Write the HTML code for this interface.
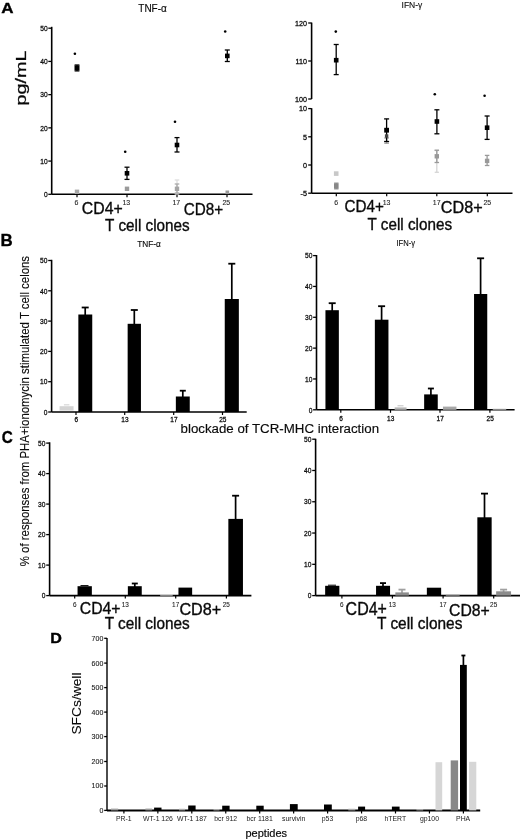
<!DOCTYPE html><html><head><meta charset="utf-8"><style>html,body{margin:0;padding:0;background:#fff;width:520px;height:840px;overflow:hidden}svg{display:block;filter:blur(0.35px)}text{font-family:"Liberation Sans", sans-serif}</style></head><body>
<svg width="520" height="840" viewBox="0 0 520 840">
<rect width="520" height="840" fill="#fff"/>
<text transform="translate(1.37,13.40) scale(1.0972,1)" font-size="15.507" font-weight="bold" fill="#000" stroke="#000" stroke-width="0.35">A</text>
<text transform="translate(0.50,246.10) scale(0.9791,1)" font-size="17.246" font-weight="bold" fill="#000" stroke="#000" stroke-width="0.35">B</text>
<text transform="translate(1.69,442.93) scale(0.9109,1)" font-size="16.761" font-weight="bold" fill="#000" stroke="#000" stroke-width="0.35">C</text>
<text transform="translate(50.15,642.60) scale(1.0890,1)" font-size="14.783" font-weight="bold" fill="#000" stroke="#000" stroke-width="0.35">D</text>
<text transform="translate(138.30,11.79) scale(0.8845,1)" font-size="11.286" font-weight="normal" fill="#0a0a0a" stroke="#0a0a0a" stroke-width="0.15">TNF-α</text>
<line x1="51.70" y1="26.80" x2="51.70" y2="194.30" stroke="#000" stroke-width="1.6"/>
<line x1="48.30" y1="194.30" x2="51.70" y2="194.30" stroke="#000" stroke-width="1.3"/>
<text transform="translate(43.88,197.00) scale(0.8300,1)" font-size="8.000" font-weight="normal" fill="#0a0a0a" stroke="#0a0a0a" stroke-width="0.28">0</text>
<line x1="48.30" y1="161.08" x2="51.70" y2="161.08" stroke="#000" stroke-width="1.3"/>
<text transform="translate(40.20,163.78) scale(0.8300,1)" font-size="8.000" font-weight="normal" fill="#0a0a0a" stroke="#0a0a0a" stroke-width="0.28">10</text>
<line x1="48.30" y1="127.86" x2="51.70" y2="127.86" stroke="#000" stroke-width="1.3"/>
<text transform="translate(40.20,130.56) scale(0.8300,1)" font-size="8.000" font-weight="normal" fill="#0a0a0a" stroke="#0a0a0a" stroke-width="0.28">20</text>
<line x1="48.30" y1="94.64" x2="51.70" y2="94.64" stroke="#000" stroke-width="1.3"/>
<text transform="translate(40.20,97.34) scale(0.8300,1)" font-size="8.000" font-weight="normal" fill="#0a0a0a" stroke="#0a0a0a" stroke-width="0.28">30</text>
<line x1="48.30" y1="61.42" x2="51.70" y2="61.42" stroke="#000" stroke-width="1.3"/>
<text transform="translate(40.20,64.12) scale(0.8300,1)" font-size="8.000" font-weight="normal" fill="#0a0a0a" stroke="#0a0a0a" stroke-width="0.28">40</text>
<line x1="48.30" y1="28.20" x2="51.70" y2="28.20" stroke="#000" stroke-width="1.3"/>
<text transform="translate(40.20,30.90) scale(0.8300,1)" font-size="8.000" font-weight="normal" fill="#0a0a0a" stroke="#0a0a0a" stroke-width="0.28">50</text>
<line x1="51.70" y1="194.30" x2="252.50" y2="194.30" stroke="#000" stroke-width="1.6"/>
<line x1="77.00" y1="194.30" x2="77.00" y2="197.30" stroke="#000" stroke-width="1.2"/>
<line x1="127.00" y1="194.30" x2="127.00" y2="197.30" stroke="#000" stroke-width="1.2"/>
<line x1="177.00" y1="194.30" x2="177.00" y2="197.30" stroke="#000" stroke-width="1.2"/>
<line x1="227.00" y1="194.30" x2="227.00" y2="197.30" stroke="#000" stroke-width="1.2"/>
<text transform="translate(74.44,205.20) scale(0.9700,1)" font-size="7.200" font-weight="normal" fill="#222" stroke="#222" stroke-width="0.1">6</text>
<text transform="translate(122.42,205.20) scale(0.9700,1)" font-size="7.200" font-weight="normal" fill="#222" stroke="#222" stroke-width="0.1">13</text>
<text transform="translate(172.44,205.20) scale(0.9700,1)" font-size="7.200" font-weight="normal" fill="#222" stroke="#222" stroke-width="0.1">17</text>
<text transform="translate(222.49,205.20) scale(0.9700,1)" font-size="7.200" font-weight="normal" fill="#222" stroke="#222" stroke-width="0.1">25</text>
<text transform="translate(81.81,214.03) scale(0.9436,1)" font-size="16.761" font-weight="normal" fill="#0a0a0a" stroke="#0a0a0a" stroke-width="0.35">CD4+</text>
<text transform="translate(183.64,214.83) scale(0.8888,1)" font-size="17.183" font-weight="normal" fill="#0a0a0a" stroke="#0a0a0a" stroke-width="0.35">CD8+</text>
<text transform="translate(105.09,230.64) scale(0.9436,1)" font-size="16.190" font-weight="normal" fill="#0a0a0a" stroke="#0a0a0a" stroke-width="0.35">T cell clones</text>
<text transform="translate(25.78,105.48) scale(0.7531,1) rotate(-90)" font-size="19.739" fill="#0a0a0a" stroke="#0a0a0a" stroke-width="0.35">pg/mL</text>
<line x1="77.00" y1="65.00" x2="77.00" y2="70.90" stroke="#000" stroke-width="1.3"/>
<line x1="74.60" y1="65.00" x2="79.40" y2="65.00" stroke="#000" stroke-width="1.3"/>
<line x1="74.60" y1="70.90" x2="79.40" y2="70.90" stroke="#000" stroke-width="1.3"/>
<rect x="74.50" y="65.40" width="5.00" height="5.00" fill="#000"/>
<circle cx="74.90" cy="53.80" r="1.3" fill="#000"/>
<rect x="74.80" y="189.60" width="4.40" height="4.40" fill="#a8a8a8"/>
<line x1="127.00" y1="167.20" x2="127.00" y2="179.40" stroke="#000" stroke-width="1.3"/>
<line x1="124.50" y1="167.20" x2="129.50" y2="167.20" stroke="#000" stroke-width="1.3"/>
<line x1="124.50" y1="179.40" x2="129.50" y2="179.40" stroke="#000" stroke-width="1.3"/>
<rect x="124.70" y="171.00" width="4.60" height="4.60" fill="#000"/>
<circle cx="125.20" cy="151.70" r="1.3" fill="#000"/>
<rect x="124.80" y="186.60" width="4.40" height="4.40" fill="#9a9a9a"/>
<line x1="177.00" y1="180.00" x2="177.00" y2="194.00" stroke="#dddddd" stroke-width="1.3"/>
<line x1="174.70" y1="180.00" x2="179.30" y2="180.00" stroke="#dddddd" stroke-width="1.3"/>
<line x1="174.70" y1="194.00" x2="179.30" y2="194.00" stroke="#dddddd" stroke-width="1.3"/>
<line x1="177.00" y1="184.00" x2="177.00" y2="193.00" stroke="#aaaaaa" stroke-width="1.3"/>
<line x1="174.70" y1="184.00" x2="179.30" y2="184.00" stroke="#aaaaaa" stroke-width="1.3"/>
<line x1="174.70" y1="193.00" x2="179.30" y2="193.00" stroke="#aaaaaa" stroke-width="1.3"/>
<line x1="177.00" y1="137.60" x2="177.00" y2="152.00" stroke="#000" stroke-width="1.3"/>
<line x1="174.50" y1="137.60" x2="179.50" y2="137.60" stroke="#000" stroke-width="1.3"/>
<line x1="174.50" y1="152.00" x2="179.50" y2="152.00" stroke="#000" stroke-width="1.3"/>
<rect x="174.70" y="142.70" width="4.60" height="4.60" fill="#000"/>
<circle cx="175.00" cy="121.70" r="1.3" fill="#000"/>
<rect x="174.80" y="186.60" width="4.40" height="4.40" fill="#a5a5a5"/>
<line x1="227.30" y1="50.00" x2="227.30" y2="61.50" stroke="#000" stroke-width="1.3"/>
<line x1="224.80" y1="50.00" x2="229.80" y2="50.00" stroke="#000" stroke-width="1.3"/>
<line x1="224.80" y1="61.50" x2="229.80" y2="61.50" stroke="#000" stroke-width="1.3"/>
<rect x="225.00" y="53.60" width="4.60" height="4.60" fill="#000"/>
<circle cx="225.20" cy="31.50" r="1.3" fill="#000"/>
<rect x="225.50" y="190.50" width="3.60" height="3.60" fill="#9a9a9a"/>
<text transform="translate(401.53,8.19) scale(0.8906,1)" font-size="9.556" font-weight="normal" fill="#0a0a0a" stroke="#0a0a0a" stroke-width="0.1">IFN-γ</text>
<line x1="311.60" y1="22.60" x2="311.60" y2="99.00" stroke="#000" stroke-width="1.6"/>
<line x1="308.20" y1="99.00" x2="311.60" y2="99.00" stroke="#000" stroke-width="1.3"/>
<text transform="translate(295.00,101.70) scale(0.9000,1)" font-size="8.000" font-weight="normal" fill="#0a0a0a" stroke="#0a0a0a" stroke-width="0.28">100</text>
<line x1="308.20" y1="61.00" x2="311.60" y2="61.00" stroke="#000" stroke-width="1.3"/>
<text transform="translate(295.50,63.70) scale(0.9000,1)" font-size="8.000" font-weight="normal" fill="#0a0a0a" stroke="#0a0a0a" stroke-width="0.28">110</text>
<line x1="308.20" y1="23.00" x2="311.60" y2="23.00" stroke="#000" stroke-width="1.3"/>
<text transform="translate(295.00,25.70) scale(0.9000,1)" font-size="8.000" font-weight="normal" fill="#0a0a0a" stroke="#0a0a0a" stroke-width="0.28">120</text>
<line x1="311.60" y1="108.20" x2="311.60" y2="193.30" stroke="#000" stroke-width="1.6"/>
<line x1="308.20" y1="108.60" x2="311.60" y2="108.60" stroke="#000" stroke-width="1.3"/>
<text transform="translate(299.00,111.30) scale(0.9000,1)" font-size="8.000" font-weight="normal" fill="#0a0a0a" stroke="#0a0a0a" stroke-width="0.28">10</text>
<line x1="308.20" y1="136.80" x2="311.60" y2="136.80" stroke="#000" stroke-width="1.3"/>
<text transform="translate(302.99,139.50) scale(0.9000,1)" font-size="8.000" font-weight="normal" fill="#0a0a0a" stroke="#0a0a0a" stroke-width="0.28">5</text>
<line x1="308.20" y1="165.00" x2="311.60" y2="165.00" stroke="#000" stroke-width="1.3"/>
<text transform="translate(302.99,167.70) scale(0.9000,1)" font-size="8.000" font-weight="normal" fill="#0a0a0a" stroke="#0a0a0a" stroke-width="0.28">0</text>
<line x1="308.20" y1="193.20" x2="311.60" y2="193.20" stroke="#000" stroke-width="1.3"/>
<text transform="translate(300.58,195.90) scale(0.9000,1)" font-size="8.000" font-weight="normal" fill="#0a0a0a" stroke="#0a0a0a" stroke-width="0.28">-5</text>
<line x1="311.60" y1="193.30" x2="512.50" y2="193.30" stroke="#000" stroke-width="1.6"/>
<line x1="336.30" y1="193.30" x2="336.30" y2="196.30" stroke="#000" stroke-width="1.2"/>
<line x1="386.70" y1="193.30" x2="386.70" y2="196.30" stroke="#000" stroke-width="1.2"/>
<line x1="436.80" y1="193.30" x2="436.80" y2="196.30" stroke="#000" stroke-width="1.2"/>
<line x1="487.30" y1="193.30" x2="487.30" y2="196.30" stroke="#000" stroke-width="1.2"/>
<text transform="translate(334.34,204.90) scale(0.9700,1)" font-size="7.200" font-weight="normal" fill="#222" stroke="#222" stroke-width="0.1">6</text>
<text transform="translate(382.72,204.90) scale(0.9700,1)" font-size="7.200" font-weight="normal" fill="#222" stroke="#222" stroke-width="0.1">13</text>
<text transform="translate(432.84,204.90) scale(0.9700,1)" font-size="7.200" font-weight="normal" fill="#222" stroke="#222" stroke-width="0.1">17</text>
<text transform="translate(483.39,204.90) scale(0.9700,1)" font-size="7.200" font-weight="normal" fill="#222" stroke="#222" stroke-width="0.1">25</text>
<text transform="translate(344.44,212.34) scale(0.9255,1)" font-size="16.479" font-weight="normal" fill="#0a0a0a" stroke="#0a0a0a" stroke-width="0.35">CD4+</text>
<text transform="translate(440.79,212.64) scale(0.9901,1)" font-size="16.338" font-weight="normal" fill="#0a0a0a" stroke="#0a0a0a" stroke-width="0.35">CD8+</text>
<text transform="translate(367.60,229.74) scale(0.9575,1)" font-size="15.918" font-weight="normal" fill="#0a0a0a" stroke="#0a0a0a" stroke-width="0.35">T cell clones</text>
<line x1="336.20" y1="44.50" x2="336.20" y2="74.60" stroke="#000" stroke-width="1.3"/>
<line x1="333.70" y1="44.50" x2="338.70" y2="44.50" stroke="#000" stroke-width="1.3"/>
<line x1="333.70" y1="74.60" x2="338.70" y2="74.60" stroke="#000" stroke-width="1.3"/>
<rect x="333.90" y="57.90" width="4.60" height="4.60" fill="#000"/>
<circle cx="335.80" cy="31.60" r="1.3" fill="#000"/>
<rect x="333.90" y="171.30" width="4.60" height="4.60" fill="#c8c8c8"/>
<line x1="336.30" y1="183.20" x2="336.30" y2="188.80" stroke="#888" stroke-width="1.3"/>
<line x1="334.10" y1="183.20" x2="338.50" y2="183.20" stroke="#888" stroke-width="1.3"/>
<line x1="334.10" y1="188.80" x2="338.50" y2="188.80" stroke="#888" stroke-width="1.3"/>
<rect x="334.00" y="183.70" width="4.60" height="4.60" fill="#888"/>
<line x1="386.60" y1="138.00" x2="386.60" y2="143.20" stroke="#9a9a9a" stroke-width="1.3"/>
<line x1="384.30" y1="138.00" x2="388.90" y2="138.00" stroke="#9a9a9a" stroke-width="1.3"/>
<line x1="384.30" y1="143.20" x2="388.90" y2="143.20" stroke="#9a9a9a" stroke-width="1.3"/>
<line x1="386.60" y1="118.90" x2="386.60" y2="141.50" stroke="#000" stroke-width="1.3"/>
<line x1="384.10" y1="118.90" x2="389.10" y2="118.90" stroke="#000" stroke-width="1.3"/>
<line x1="384.10" y1="141.50" x2="389.10" y2="141.50" stroke="#000" stroke-width="1.3"/>
<rect x="384.20" y="127.80" width="4.80" height="4.80" fill="#000"/>
<rect x="384.90" y="134.30" width="3.40" height="3.40" fill="#444"/>
<line x1="436.80" y1="150.50" x2="436.80" y2="172.30" stroke="#d5d5d5" stroke-width="1.3"/>
<line x1="434.70" y1="150.50" x2="438.90" y2="150.50" stroke="#d5d5d5" stroke-width="1.3"/>
<line x1="434.70" y1="172.30" x2="438.90" y2="172.30" stroke="#d5d5d5" stroke-width="1.3"/>
<line x1="436.80" y1="150.20" x2="436.80" y2="162.50" stroke="#999" stroke-width="1.3"/>
<line x1="434.55" y1="150.20" x2="439.05" y2="150.20" stroke="#999" stroke-width="1.3"/>
<line x1="434.55" y1="162.50" x2="439.05" y2="162.50" stroke="#999" stroke-width="1.3"/>
<rect x="434.60" y="154.10" width="4.40" height="4.40" fill="#999"/>
<line x1="436.90" y1="109.80" x2="436.90" y2="133.80" stroke="#000" stroke-width="1.3"/>
<line x1="434.40" y1="109.80" x2="439.40" y2="109.80" stroke="#000" stroke-width="1.3"/>
<line x1="434.40" y1="133.80" x2="439.40" y2="133.80" stroke="#000" stroke-width="1.3"/>
<rect x="434.60" y="119.20" width="4.60" height="4.60" fill="#000"/>
<circle cx="434.80" cy="94.20" r="1.3" fill="#000"/>
<line x1="487.10" y1="155.40" x2="487.10" y2="165.50" stroke="#999" stroke-width="1.3"/>
<line x1="484.85" y1="155.40" x2="489.35" y2="155.40" stroke="#999" stroke-width="1.3"/>
<line x1="484.85" y1="165.50" x2="489.35" y2="165.50" stroke="#999" stroke-width="1.3"/>
<rect x="484.90" y="158.70" width="4.40" height="4.40" fill="#999"/>
<line x1="487.10" y1="116.00" x2="487.10" y2="139.40" stroke="#000" stroke-width="1.3"/>
<line x1="484.60" y1="116.00" x2="489.60" y2="116.00" stroke="#000" stroke-width="1.3"/>
<line x1="484.60" y1="139.40" x2="489.60" y2="139.40" stroke="#000" stroke-width="1.3"/>
<rect x="484.80" y="125.40" width="4.60" height="4.60" fill="#000"/>
<circle cx="484.60" cy="95.80" r="1.3" fill="#000"/>
<text transform="translate(28.91,566.20) scale(1.0399,1) rotate(-90)" font-size="11.416" fill="#0a0a0a" stroke="#0a0a0a" stroke-width="0.12">% of responses from PHA+ionomycin stimulated T cell celons</text>
<text transform="translate(137.23,247.01) scale(0.8907,1)" font-size="9.286" font-weight="normal" fill="#0a0a0a" stroke="#0a0a0a" stroke-width="0.15">TNF-α</text>
<line x1="51.60" y1="259.80" x2="51.60" y2="412.00" stroke="#000" stroke-width="1.6"/>
<line x1="48.20" y1="412.00" x2="51.60" y2="412.00" stroke="#000" stroke-width="1.3"/>
<text transform="translate(43.78,414.70) scale(0.8300,1)" font-size="8.000" font-weight="normal" fill="#0a0a0a" stroke="#0a0a0a" stroke-width="0.28">0</text>
<line x1="48.20" y1="381.70" x2="51.60" y2="381.70" stroke="#000" stroke-width="1.3"/>
<text transform="translate(40.10,384.40) scale(0.8300,1)" font-size="8.000" font-weight="normal" fill="#0a0a0a" stroke="#0a0a0a" stroke-width="0.28">10</text>
<line x1="48.20" y1="351.40" x2="51.60" y2="351.40" stroke="#000" stroke-width="1.3"/>
<text transform="translate(40.10,354.10) scale(0.8300,1)" font-size="8.000" font-weight="normal" fill="#0a0a0a" stroke="#0a0a0a" stroke-width="0.28">20</text>
<line x1="48.20" y1="321.10" x2="51.60" y2="321.10" stroke="#000" stroke-width="1.3"/>
<text transform="translate(40.10,323.80) scale(0.8300,1)" font-size="8.000" font-weight="normal" fill="#0a0a0a" stroke="#0a0a0a" stroke-width="0.28">30</text>
<line x1="48.20" y1="290.80" x2="51.60" y2="290.80" stroke="#000" stroke-width="1.3"/>
<text transform="translate(40.10,293.50) scale(0.8300,1)" font-size="8.000" font-weight="normal" fill="#0a0a0a" stroke="#0a0a0a" stroke-width="0.28">40</text>
<line x1="48.20" y1="260.50" x2="51.60" y2="260.50" stroke="#000" stroke-width="1.3"/>
<text transform="translate(40.10,263.20) scale(0.8300,1)" font-size="8.000" font-weight="normal" fill="#0a0a0a" stroke="#0a0a0a" stroke-width="0.28">50</text>
<line x1="51.60" y1="412.00" x2="246.70" y2="412.00" stroke="#000" stroke-width="1.6"/>
<line x1="76.00" y1="412.00" x2="76.00" y2="415.00" stroke="#000" stroke-width="1.2"/>
<line x1="124.70" y1="412.00" x2="124.70" y2="415.00" stroke="#000" stroke-width="1.2"/>
<line x1="173.70" y1="412.00" x2="173.70" y2="415.00" stroke="#000" stroke-width="1.2"/>
<line x1="222.50" y1="412.00" x2="222.50" y2="415.00" stroke="#000" stroke-width="1.2"/>
<text transform="translate(74.48,422.30) scale(0.8800,1)" font-size="7.400" font-weight="normal" fill="#0a0a0a" stroke="#0a0a0a" stroke-width="0.28">6</text>
<text transform="translate(121.29,422.30) scale(0.8800,1)" font-size="7.400" font-weight="normal" fill="#0a0a0a" stroke="#0a0a0a" stroke-width="0.28">13</text>
<text transform="translate(170.30,422.30) scale(0.8800,1)" font-size="7.400" font-weight="normal" fill="#0a0a0a" stroke="#0a0a0a" stroke-width="0.28">17</text>
<text transform="translate(219.15,422.30) scale(0.8800,1)" font-size="7.400" font-weight="normal" fill="#0a0a0a" stroke="#0a0a0a" stroke-width="0.28">25</text>
<rect x="59.55" y="406.20" width="14.00" height="4.40" fill="#d4d4d4"/>
<line x1="63.90" y1="404.80" x2="69.40" y2="404.80" stroke="#dcdcdc" stroke-width="1.4"/>
<line x1="85.20" y1="307.50" x2="85.20" y2="315.50" stroke="#000" stroke-width="1.7"/>
<line x1="81.70" y1="307.50" x2="88.70" y2="307.50" stroke="#000" stroke-width="1.8"/>
<rect x="78.35" y="314.50" width="13.90" height="97.50" fill="#000"/>
<line x1="134.30" y1="310.00" x2="134.30" y2="324.80" stroke="#000" stroke-width="1.7"/>
<line x1="130.80" y1="310.00" x2="137.80" y2="310.00" stroke="#000" stroke-width="1.8"/>
<rect x="127.65" y="323.80" width="13.30" height="88.20" fill="#000"/>
<line x1="182.80" y1="390.70" x2="182.80" y2="397.50" stroke="#000" stroke-width="1.7"/>
<line x1="179.80" y1="390.70" x2="185.80" y2="390.70" stroke="#000" stroke-width="1.8"/>
<rect x="175.85" y="396.50" width="13.90" height="15.50" fill="#000"/>
<line x1="231.80" y1="263.70" x2="231.80" y2="300.00" stroke="#000" stroke-width="1.7"/>
<line x1="228.30" y1="263.70" x2="235.30" y2="263.70" stroke="#000" stroke-width="1.8"/>
<rect x="224.75" y="299.00" width="14.10" height="113.00" fill="#000"/>
<text transform="translate(396.41,246.06) scale(0.8726,1)" font-size="8.778" font-weight="normal" fill="#0a0a0a" stroke="#0a0a0a" stroke-width="0.1">IFN-γ</text>
<line x1="316.50" y1="255.00" x2="316.50" y2="409.80" stroke="#000" stroke-width="1.6"/>
<line x1="313.10" y1="409.80" x2="316.50" y2="409.80" stroke="#000" stroke-width="1.3"/>
<text transform="translate(308.68,412.50) scale(0.8300,1)" font-size="8.000" font-weight="normal" fill="#0a0a0a" stroke="#0a0a0a" stroke-width="0.28">0</text>
<line x1="313.10" y1="378.96" x2="316.50" y2="378.96" stroke="#000" stroke-width="1.3"/>
<text transform="translate(305.00,381.66) scale(0.8300,1)" font-size="8.000" font-weight="normal" fill="#0a0a0a" stroke="#0a0a0a" stroke-width="0.28">10</text>
<line x1="313.10" y1="348.12" x2="316.50" y2="348.12" stroke="#000" stroke-width="1.3"/>
<text transform="translate(305.00,350.82) scale(0.8300,1)" font-size="8.000" font-weight="normal" fill="#0a0a0a" stroke="#0a0a0a" stroke-width="0.28">20</text>
<line x1="313.10" y1="317.28" x2="316.50" y2="317.28" stroke="#000" stroke-width="1.3"/>
<text transform="translate(305.00,319.98) scale(0.8300,1)" font-size="8.000" font-weight="normal" fill="#0a0a0a" stroke="#0a0a0a" stroke-width="0.28">30</text>
<line x1="313.10" y1="286.44" x2="316.50" y2="286.44" stroke="#000" stroke-width="1.3"/>
<text transform="translate(305.00,289.14) scale(0.8300,1)" font-size="8.000" font-weight="normal" fill="#0a0a0a" stroke="#0a0a0a" stroke-width="0.28">40</text>
<line x1="313.10" y1="255.60" x2="316.50" y2="255.60" stroke="#000" stroke-width="1.3"/>
<text transform="translate(305.00,258.30) scale(0.8300,1)" font-size="8.000" font-weight="normal" fill="#0a0a0a" stroke="#0a0a0a" stroke-width="0.28">50</text>
<line x1="316.50" y1="409.80" x2="514.60" y2="409.80" stroke="#000" stroke-width="1.6"/>
<line x1="340.80" y1="409.80" x2="340.80" y2="412.80" stroke="#000" stroke-width="1.2"/>
<line x1="390.50" y1="409.80" x2="390.50" y2="412.80" stroke="#000" stroke-width="1.2"/>
<line x1="440.00" y1="409.80" x2="440.00" y2="412.80" stroke="#000" stroke-width="1.2"/>
<line x1="489.90" y1="409.80" x2="489.90" y2="412.80" stroke="#000" stroke-width="1.2"/>
<text transform="translate(339.28,421.30) scale(0.8800,1)" font-size="7.400" font-weight="normal" fill="#0a0a0a" stroke="#0a0a0a" stroke-width="0.28">6</text>
<text transform="translate(387.09,421.30) scale(0.8800,1)" font-size="7.400" font-weight="normal" fill="#0a0a0a" stroke="#0a0a0a" stroke-width="0.28">13</text>
<text transform="translate(436.60,421.30) scale(0.8800,1)" font-size="7.400" font-weight="normal" fill="#0a0a0a" stroke="#0a0a0a" stroke-width="0.28">17</text>
<text transform="translate(486.55,421.30) scale(0.8800,1)" font-size="7.400" font-weight="normal" fill="#0a0a0a" stroke="#0a0a0a" stroke-width="0.28">25</text>
<line x1="332.20" y1="303.20" x2="332.20" y2="311.20" stroke="#000" stroke-width="1.7"/>
<line x1="328.70" y1="303.20" x2="335.70" y2="303.20" stroke="#000" stroke-width="1.8"/>
<rect x="325.45" y="310.20" width="13.40" height="99.60" fill="#000"/>
<line x1="381.60" y1="306.20" x2="381.60" y2="320.70" stroke="#000" stroke-width="1.7"/>
<line x1="378.10" y1="306.20" x2="385.10" y2="306.20" stroke="#000" stroke-width="1.8"/>
<rect x="374.85" y="319.70" width="13.60" height="90.10" fill="#000"/>
<rect x="394.65" y="407.40" width="11.90" height="2.40" fill="#b5b5b5"/>
<line x1="397.50" y1="405.80" x2="403.50" y2="405.80" stroke="#c0c0c0" stroke-width="1.0"/>
<line x1="430.90" y1="388.50" x2="430.90" y2="395.40" stroke="#000" stroke-width="1.7"/>
<line x1="427.90" y1="388.50" x2="433.90" y2="388.50" stroke="#000" stroke-width="1.8"/>
<rect x="424.15" y="394.40" width="13.60" height="15.40" fill="#000"/>
<rect x="442.95" y="406.60" width="13.50" height="3.20" fill="#a8a8a8"/>
<line x1="480.60" y1="258.30" x2="480.60" y2="295.00" stroke="#000" stroke-width="1.7"/>
<line x1="477.10" y1="258.30" x2="484.10" y2="258.30" stroke="#000" stroke-width="1.8"/>
<rect x="474.05" y="294.00" width="13.20" height="115.80" fill="#000"/>
<rect x="492.75" y="408.80" width="13.50" height="1.00" fill="#aaaaaa"/>
<text transform="translate(180.54,433.07) scale(1.0189,1)" font-size="13.061" font-weight="normal" fill="#0a0a0a" stroke="#0a0a0a" stroke-width="0.15">blockade of TCR-MHC interaction</text>
<line x1="49.60" y1="442.30" x2="49.60" y2="595.60" stroke="#000" stroke-width="1.6"/>
<line x1="46.20" y1="595.60" x2="49.60" y2="595.60" stroke="#000" stroke-width="1.3"/>
<text transform="translate(41.78,598.30) scale(0.8300,1)" font-size="8.000" font-weight="normal" fill="#0a0a0a" stroke="#0a0a0a" stroke-width="0.28">0</text>
<line x1="46.20" y1="565.10" x2="49.60" y2="565.10" stroke="#000" stroke-width="1.3"/>
<text transform="translate(38.10,567.80) scale(0.8300,1)" font-size="8.000" font-weight="normal" fill="#0a0a0a" stroke="#0a0a0a" stroke-width="0.28">10</text>
<line x1="46.20" y1="534.60" x2="49.60" y2="534.60" stroke="#000" stroke-width="1.3"/>
<text transform="translate(38.10,537.30) scale(0.8300,1)" font-size="8.000" font-weight="normal" fill="#0a0a0a" stroke="#0a0a0a" stroke-width="0.28">20</text>
<line x1="46.20" y1="504.10" x2="49.60" y2="504.10" stroke="#000" stroke-width="1.3"/>
<text transform="translate(38.10,506.80) scale(0.8300,1)" font-size="8.000" font-weight="normal" fill="#0a0a0a" stroke="#0a0a0a" stroke-width="0.28">30</text>
<line x1="46.20" y1="473.60" x2="49.60" y2="473.60" stroke="#000" stroke-width="1.3"/>
<text transform="translate(38.10,476.30) scale(0.8300,1)" font-size="8.000" font-weight="normal" fill="#0a0a0a" stroke="#0a0a0a" stroke-width="0.28">40</text>
<line x1="46.20" y1="443.10" x2="49.60" y2="443.10" stroke="#000" stroke-width="1.3"/>
<text transform="translate(38.10,445.80) scale(0.8300,1)" font-size="8.000" font-weight="normal" fill="#0a0a0a" stroke="#0a0a0a" stroke-width="0.28">50</text>
<line x1="49.60" y1="595.60" x2="251.40" y2="595.60" stroke="#000" stroke-width="1.6"/>
<line x1="74.70" y1="595.60" x2="74.70" y2="598.60" stroke="#000" stroke-width="1.2"/>
<line x1="125.30" y1="595.60" x2="125.30" y2="598.60" stroke="#000" stroke-width="1.2"/>
<line x1="175.70" y1="595.60" x2="175.70" y2="598.60" stroke="#000" stroke-width="1.2"/>
<line x1="226.40" y1="595.60" x2="226.40" y2="598.60" stroke="#000" stroke-width="1.2"/>
<text transform="translate(72.91,607.00) scale(0.9700,1)" font-size="6.600" font-weight="normal" fill="#222" stroke="#222" stroke-width="0.1">6</text>
<text transform="translate(121.65,607.00) scale(0.9700,1)" font-size="6.600" font-weight="normal" fill="#222" stroke="#222" stroke-width="0.1">13</text>
<text transform="translate(172.07,607.00) scale(0.9700,1)" font-size="6.600" font-weight="normal" fill="#222" stroke="#222" stroke-width="0.1">17</text>
<text transform="translate(222.81,607.00) scale(0.9700,1)" font-size="6.600" font-weight="normal" fill="#222" stroke="#222" stroke-width="0.1">25</text>
<line x1="80.50" y1="585.60" x2="88.50" y2="585.60" stroke="#000" stroke-width="1.0"/>
<rect x="77.55" y="586.20" width="14.30" height="9.40" fill="#000"/>
<line x1="134.80" y1="583.50" x2="134.80" y2="587.20" stroke="#000" stroke-width="1.7"/>
<line x1="131.80" y1="583.50" x2="137.80" y2="583.50" stroke="#000" stroke-width="1.8"/>
<rect x="127.85" y="586.20" width="13.90" height="9.40" fill="#000"/>
<rect x="160.15" y="594.40" width="12.60" height="1.20" fill="#d8d8d8"/>
<rect x="178.45" y="587.60" width="13.70" height="8.00" fill="#000"/>
<line x1="235.60" y1="495.70" x2="235.60" y2="519.90" stroke="#000" stroke-width="1.7"/>
<line x1="232.10" y1="495.70" x2="239.10" y2="495.70" stroke="#000" stroke-width="1.8"/>
<rect x="228.35" y="518.90" width="14.60" height="76.70" fill="#000"/>
<text transform="translate(79.71,613.63) scale(0.9357,1)" font-size="16.901" font-weight="normal" fill="#0a0a0a" stroke="#0a0a0a" stroke-width="0.35">CD4+</text>
<text transform="translate(179.39,615.24) scale(0.9901,1)" font-size="16.338" font-weight="normal" fill="#0a0a0a" stroke="#0a0a0a" stroke-width="0.35">CD8+</text>
<text transform="translate(104.69,628.94) scale(0.9573,1)" font-size="16.054" font-weight="normal" fill="#0a0a0a" stroke="#0a0a0a" stroke-width="0.35">T cell clones</text>
<line x1="315.60" y1="438.80" x2="315.60" y2="595.60" stroke="#000" stroke-width="1.6"/>
<line x1="312.20" y1="595.60" x2="315.60" y2="595.60" stroke="#000" stroke-width="1.3"/>
<text transform="translate(307.78,598.30) scale(0.8300,1)" font-size="8.000" font-weight="normal" fill="#0a0a0a" stroke="#0a0a0a" stroke-width="0.28">0</text>
<line x1="312.20" y1="564.32" x2="315.60" y2="564.32" stroke="#000" stroke-width="1.3"/>
<text transform="translate(304.10,567.02) scale(0.8300,1)" font-size="8.000" font-weight="normal" fill="#0a0a0a" stroke="#0a0a0a" stroke-width="0.28">10</text>
<line x1="312.20" y1="533.04" x2="315.60" y2="533.04" stroke="#000" stroke-width="1.3"/>
<text transform="translate(304.10,535.74) scale(0.8300,1)" font-size="8.000" font-weight="normal" fill="#0a0a0a" stroke="#0a0a0a" stroke-width="0.28">20</text>
<line x1="312.20" y1="501.76" x2="315.60" y2="501.76" stroke="#000" stroke-width="1.3"/>
<text transform="translate(304.10,504.46) scale(0.8300,1)" font-size="8.000" font-weight="normal" fill="#0a0a0a" stroke="#0a0a0a" stroke-width="0.28">30</text>
<line x1="312.20" y1="470.48" x2="315.60" y2="470.48" stroke="#000" stroke-width="1.3"/>
<text transform="translate(304.10,473.18) scale(0.8300,1)" font-size="8.000" font-weight="normal" fill="#0a0a0a" stroke="#0a0a0a" stroke-width="0.28">40</text>
<line x1="312.20" y1="439.20" x2="315.60" y2="439.20" stroke="#000" stroke-width="1.3"/>
<text transform="translate(304.10,441.90) scale(0.8300,1)" font-size="8.000" font-weight="normal" fill="#0a0a0a" stroke="#0a0a0a" stroke-width="0.28">50</text>
<line x1="315.60" y1="595.60" x2="521.00" y2="595.60" stroke="#000" stroke-width="1.6"/>
<line x1="341.90" y1="595.60" x2="341.90" y2="598.60" stroke="#000" stroke-width="1.2"/>
<line x1="392.40" y1="595.60" x2="392.40" y2="598.60" stroke="#000" stroke-width="1.2"/>
<line x1="443.10" y1="595.60" x2="443.10" y2="598.60" stroke="#000" stroke-width="1.2"/>
<line x1="493.70" y1="595.60" x2="493.70" y2="598.60" stroke="#000" stroke-width="1.2"/>
<text transform="translate(340.11,606.80) scale(0.9700,1)" font-size="6.600" font-weight="normal" fill="#222" stroke="#222" stroke-width="0.1">6</text>
<text transform="translate(388.75,606.80) scale(0.9700,1)" font-size="6.600" font-weight="normal" fill="#222" stroke="#222" stroke-width="0.1">13</text>
<text transform="translate(439.47,606.80) scale(0.9700,1)" font-size="6.600" font-weight="normal" fill="#222" stroke="#222" stroke-width="0.1">17</text>
<text transform="translate(490.11,606.80) scale(0.9700,1)" font-size="6.600" font-weight="normal" fill="#222" stroke="#222" stroke-width="0.1">25</text>
<line x1="328.00" y1="585.20" x2="336.00" y2="585.20" stroke="#000" stroke-width="1.0"/>
<rect x="325.15" y="585.80" width="14.20" height="9.80" fill="#000"/>
<line x1="383.00" y1="583.10" x2="383.00" y2="586.80" stroke="#000" stroke-width="1.7"/>
<line x1="380.00" y1="583.10" x2="386.00" y2="583.10" stroke="#000" stroke-width="1.8"/>
<rect x="376.05" y="585.80" width="14.00" height="9.80" fill="#000"/>
<line x1="402.00" y1="589.60" x2="402.00" y2="593.60" stroke="#a0a0a0" stroke-width="1.7"/>
<line x1="398.50" y1="589.60" x2="405.50" y2="589.60" stroke="#a0a0a0" stroke-width="1.8"/>
<rect x="395.35" y="592.40" width="13.50" height="3.20" fill="#8c8c8c"/>
<rect x="426.85" y="587.70" width="14.30" height="7.90" fill="#000"/>
<rect x="445.75" y="594.60" width="13.90" height="1.00" fill="#aaaaaa"/>
<line x1="484.50" y1="493.60" x2="484.50" y2="518.30" stroke="#000" stroke-width="1.7"/>
<line x1="481.00" y1="493.60" x2="488.00" y2="493.60" stroke="#000" stroke-width="1.8"/>
<rect x="477.35" y="517.30" width="14.30" height="78.30" fill="#000"/>
<line x1="503.60" y1="589.60" x2="503.60" y2="592.30" stroke="#a0a0a0" stroke-width="1.7"/>
<line x1="500.10" y1="589.60" x2="507.10" y2="589.60" stroke="#a0a0a0" stroke-width="1.8"/>
<rect x="496.15" y="591.30" width="14.90" height="4.30" fill="#8c8c8c"/>
<text transform="translate(345.60,615.02) scale(0.8793,1)" font-size="18.169" font-weight="normal" fill="#0a0a0a" stroke="#0a0a0a" stroke-width="0.35">CD4+</text>
<text transform="translate(449.01,615.93) scale(0.9180,1)" font-size="17.183" font-weight="normal" fill="#0a0a0a" stroke="#0a0a0a" stroke-width="0.35">CD8+</text>
<text transform="translate(376.99,628.74) scale(0.9773,1)" font-size="15.782" font-weight="normal" fill="#0a0a0a" stroke="#0a0a0a" stroke-width="0.35">T cell clones</text>
<line x1="107.00" y1="638.00" x2="107.00" y2="810.40" stroke="#000" stroke-width="1.4"/>
<line x1="104.20" y1="638.30" x2="107.00" y2="638.30" stroke="#000" stroke-width="1.3"/>
<text transform="translate(91.61,640.75) scale(0.9600,1)" font-size="7.300" font-weight="normal" fill="#1a1a1a" stroke="#1a1a1a" stroke-width="0.1">700</text>
<line x1="104.20" y1="663.10" x2="107.00" y2="663.10" stroke="#000" stroke-width="1.3"/>
<text transform="translate(91.61,665.55) scale(0.9600,1)" font-size="7.300" font-weight="normal" fill="#1a1a1a" stroke="#1a1a1a" stroke-width="0.1">600</text>
<line x1="104.20" y1="687.60" x2="107.00" y2="687.60" stroke="#000" stroke-width="1.3"/>
<text transform="translate(91.61,690.05) scale(0.9600,1)" font-size="7.300" font-weight="normal" fill="#1a1a1a" stroke="#1a1a1a" stroke-width="0.1">500</text>
<line x1="104.20" y1="712.10" x2="107.00" y2="712.10" stroke="#000" stroke-width="1.3"/>
<text transform="translate(91.61,714.55) scale(0.9600,1)" font-size="7.300" font-weight="normal" fill="#1a1a1a" stroke="#1a1a1a" stroke-width="0.1">400</text>
<line x1="104.20" y1="736.60" x2="107.00" y2="736.60" stroke="#000" stroke-width="1.3"/>
<text transform="translate(91.61,739.05) scale(0.9600,1)" font-size="7.300" font-weight="normal" fill="#1a1a1a" stroke="#1a1a1a" stroke-width="0.1">300</text>
<line x1="104.20" y1="761.50" x2="107.00" y2="761.50" stroke="#000" stroke-width="1.3"/>
<text transform="translate(91.61,763.95) scale(0.9600,1)" font-size="7.300" font-weight="normal" fill="#1a1a1a" stroke="#1a1a1a" stroke-width="0.1">200</text>
<line x1="104.20" y1="786.00" x2="107.00" y2="786.00" stroke="#000" stroke-width="1.3"/>
<text transform="translate(91.61,788.45) scale(0.9600,1)" font-size="7.300" font-weight="normal" fill="#1a1a1a" stroke="#1a1a1a" stroke-width="0.1">100</text>
<line x1="104.20" y1="810.40" x2="107.00" y2="810.40" stroke="#000" stroke-width="1.3"/>
<text transform="translate(99.39,812.85) scale(0.9600,1)" font-size="7.300" font-weight="normal" fill="#1a1a1a" stroke="#1a1a1a" stroke-width="0.1">0</text>
<line x1="107.00" y1="810.50" x2="480.20" y2="810.50" stroke="#000" stroke-width="1.8"/>
<line x1="123.90" y1="810.50" x2="123.90" y2="813.50" stroke="#000" stroke-width="1.2"/>
<line x1="157.85" y1="810.50" x2="157.85" y2="813.50" stroke="#000" stroke-width="1.2"/>
<line x1="191.80" y1="810.50" x2="191.80" y2="813.50" stroke="#000" stroke-width="1.2"/>
<line x1="225.75" y1="810.50" x2="225.75" y2="813.50" stroke="#000" stroke-width="1.2"/>
<line x1="259.70" y1="810.50" x2="259.70" y2="813.50" stroke="#000" stroke-width="1.2"/>
<line x1="293.65" y1="810.50" x2="293.65" y2="813.50" stroke="#000" stroke-width="1.2"/>
<line x1="327.60" y1="810.50" x2="327.60" y2="813.50" stroke="#000" stroke-width="1.2"/>
<line x1="361.55" y1="810.50" x2="361.55" y2="813.50" stroke="#000" stroke-width="1.2"/>
<line x1="395.50" y1="810.50" x2="395.50" y2="813.50" stroke="#000" stroke-width="1.2"/>
<line x1="429.45" y1="810.50" x2="429.45" y2="813.50" stroke="#000" stroke-width="1.2"/>
<line x1="463.40" y1="810.50" x2="463.40" y2="813.50" stroke="#000" stroke-width="1.2"/>
<text transform="translate(115.97,820.80) scale(0.9300,1)" font-size="7.400" font-weight="normal" fill="#1a1a1a">PR-1</text>
<text transform="translate(143.07,820.80) scale(0.9300,1)" font-size="7.400" font-weight="normal" fill="#1a1a1a">WT-1 126</text>
<text transform="translate(177.04,820.80) scale(0.9300,1)" font-size="7.400" font-weight="normal" fill="#1a1a1a">WT-1 187</text>
<text transform="translate(214.22,820.80) scale(0.9300,1)" font-size="7.400" font-weight="normal" fill="#1a1a1a">bcr 912</text>
<text transform="translate(246.52,820.80) scale(0.9300,1)" font-size="7.400" font-weight="normal" fill="#1a1a1a">bcr 1181</text>
<text transform="translate(282.11,820.80) scale(0.9300,1)" font-size="7.400" font-weight="normal" fill="#1a1a1a">survivin</text>
<text transform="translate(321.80,820.80) scale(0.9300,1)" font-size="7.400" font-weight="normal" fill="#1a1a1a">p53</text>
<text transform="translate(355.73,820.80) scale(0.9300,1)" font-size="7.400" font-weight="normal" fill="#1a1a1a">p68</text>
<text transform="translate(384.49,820.80) scale(0.9300,1)" font-size="7.400" font-weight="normal" fill="#1a1a1a">hTERT</text>
<text transform="translate(419.88,820.80) scale(0.9300,1)" font-size="7.400" font-weight="normal" fill="#1a1a1a">gp100</text>
<text transform="translate(456.05,820.80) scale(0.9300,1)" font-size="7.400" font-weight="normal" fill="#1a1a1a">PHA</text>
<rect x="111.00" y="808.60" width="7.20" height="1.80" fill="#a0a0a0"/>
<rect x="145.40" y="808.60" width="6.70" height="1.80" fill="#999999"/>
<rect x="154.10" y="807.60" width="7.40" height="2.80" fill="#000"/>
<rect x="179.00" y="808.80" width="6.10" height="1.60" fill="#aaaaaa"/>
<rect x="188.20" y="805.50" width="7.40" height="4.90" fill="#000"/>
<rect x="213.50" y="809.00" width="6.00" height="1.40" fill="#aaaaaa"/>
<rect x="222.20" y="805.70" width="7.40" height="4.70" fill="#000"/>
<rect x="256.30" y="805.70" width="7.40" height="4.70" fill="#000"/>
<rect x="289.90" y="804.10" width="7.80" height="6.30" fill="#000"/>
<rect x="324.00" y="804.50" width="7.80" height="5.90" fill="#000"/>
<rect x="348.30" y="808.80" width="7.00" height="1.60" fill="#aaaaaa"/>
<rect x="358.10" y="806.60" width="7.00" height="3.80" fill="#000"/>
<rect x="391.90" y="806.60" width="7.70" height="3.80" fill="#000"/>
<rect x="416.40" y="809.00" width="6.80" height="1.40" fill="#aaaaaa"/>
<rect x="435.50" y="762.20" width="6.70" height="48.20" fill="#d6d6d6"/>
<rect x="450.70" y="760.40" width="7.40" height="50.00" fill="#888888"/>
<line x1="463.40" y1="655.50" x2="463.40" y2="665.90" stroke="#000" stroke-width="1.7"/>
<line x1="461.40" y1="655.50" x2="465.40" y2="655.50" stroke="#000" stroke-width="1.8"/>
<rect x="460.00" y="664.90" width="6.80" height="145.50" fill="#000"/>
<rect x="469.10" y="761.80" width="7.20" height="48.60" fill="#d6d6d6"/>
<text transform="translate(245.48,836.59) scale(0.9990,1)" font-size="11.016" font-weight="normal" fill="#0a0a0a" stroke="#0a0a0a" stroke-width="0.2">peptides</text>
<text transform="translate(81.28,734.62) scale(0.8969,1) rotate(-90)" font-size="13.804" fill="#0a0a0a" stroke="#0a0a0a" stroke-width="0.1">SFCs/well</text>
</svg></body></html>
